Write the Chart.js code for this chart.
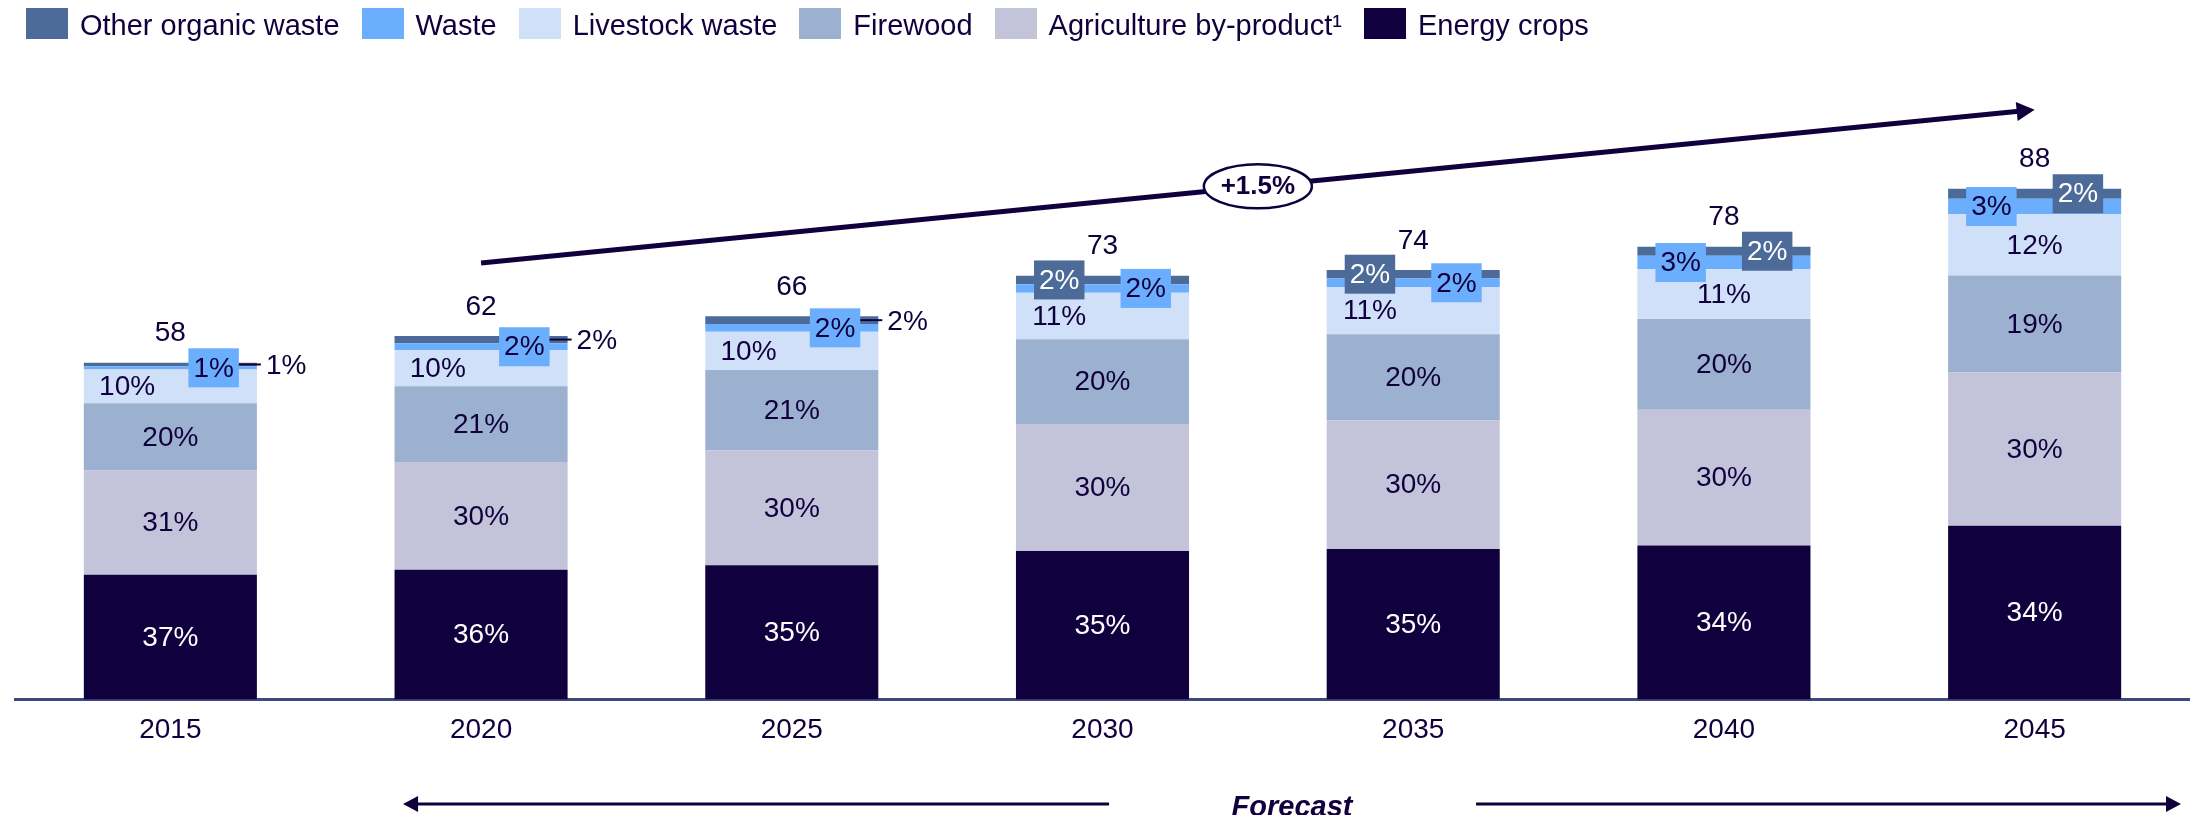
<!DOCTYPE html>
<html>
<head>
<meta charset="utf-8">
<script src="https://cdn.jsdelivr.net/npm/chart.js@4.4.1/dist/chart.umd.min.js"></script>
<style>
  html, body { margin: 0; padding: 0; background: #ffffff; }
  #wrap { position: relative; width: 2190px; height: 815px; }
  #legend {
    position: absolute; left: 26px; top: 8px; display: flex;
    font-family: "Liberation Sans", Arial, sans-serif; font-size: 29px; color: #10003d;
  }
  .item { display: flex; align-items: flex-start; margin-right: 22px; }
  .box { width: 42px; height: 31px; margin-right: 12px; }
  .txt { line-height: 31px; padding-top: 2px; white-space: nowrap; }
</style>
</head>
<body>
<div id="wrap">
  <canvas id="chart" width="2190" height="815"></canvas>
  <div id="legend"></div>
</div>
<script>
// Biomass supply by source, total and share of each source
const years = ['2015', '2020', '2025', '2030', '2035', '2040', '2045'];
const totals = [58, 62, 66, 73, 74, 78, 88];

// Shares of the total, in percent
const energyCrops    = [37, 36, 35, 35, 35, 34, 34];
const agriByproduct  = [31, 30, 30, 30, 30, 30, 30];
const firewood       = [20, 21, 21, 20, 20, 20, 19];
const livestockWaste = [10, 10, 10, 11, 11, 11, 12];
const waste          = [1, 2, 2, 2, 2, 3, 3];
const otherOrganic   = [1, 2, 2, 2, 2, 2, 2];

const seriesNames = ['Energy crops', 'Agriculture by-product\u00B9', 'Firewood',
                     'Livestock waste', 'Waste', 'Other organic waste'];
const growthLabel = '+1.5%';
const forecastLabel = 'Forecast';

// ---- styling ----
const FONT = '"Liberation Sans", Arial, sans-serif';
const NAVY = '#10003d';
const colors = ['#10003d', '#c3c3d9', '#9cb0cf', '#d0e0f9', '#6aaefd', '#4d6b99'];
const shareSets = [energyCrops, agriByproduct, firewood, livestockWaste, waste, otherOrganic];

// Where the small-segment labels sit across each bar (fraction of bar width);
// null means the label goes outside the bar with a short leader line.
const livestockAnchor = [0.25, 0.25, 0.25, 0.25, 0.25, 0.5, 0.5];
const wasteAnchor     = [0.75, 0.75, 0.75, 0.75, 0.75, 0.25, 0.25];
const otherAnchor     = [null, null, null, 0.25, 0.25, 0.75, 0.75];

// Growth arrow ends (in value units on the y scale)
const growthFrom = 75.2;
const growthTo = 101.6;

const datasets = shareSets.map((shares, d) => ({
  label: seriesNames[d],
  data: shares.map((s, i) => totals[i] * s / 100),
  backgroundColor: colors[d],
  borderWidth: 0,
  barPercentage: 0.557,
  categoryPercentage: 1.0
}));

// HTML legend, listed top of stack first
const legendEl = document.getElementById('legend');
for (let d = datasets.length - 1; d >= 0; d--) {
  const item = document.createElement('div');
  item.className = 'item';
  const box = document.createElement('div');
  box.className = 'box';
  box.style.background = colors[d];
  const txt = document.createElement('div');
  txt.className = 'txt';
  txt.textContent = seriesNames[d];
  item.appendChild(box);
  item.appendChild(txt);
  legendEl.appendChild(item);
}

function boxLabel(ctx, text, cx, cy, bg, fg) {
  const w = ctx.measureText(text).width + 10;
  const h = 39;
  ctx.fillStyle = bg;
  ctx.fillRect(cx - w / 2, cy - h / 2, w, h);
  ctx.fillStyle = fg;
  ctx.textAlign = 'center';
  ctx.textBaseline = 'middle';
  ctx.fillText(text, cx, cy + 1);
  return { left: cx - w / 2, right: cx + w / 2 };
}

const segmentLabels = {
  id: 'segmentLabels',
  afterDatasetsDraw(chart) {
    const ctx = chart.ctx;
    ctx.save();
    ctx.font = '28px ' + FONT;
    ctx.textAlign = 'center';
    ctx.textBaseline = 'middle';
    const metas = datasets.map((_, d) => chart.getDatasetMeta(d));
    years.forEach((yr, i) => {
      const geom = (d) => {
        const el = metas[d].data[i];
        return { left: el.x - el.width / 2, right: el.x + el.width / 2, w: el.width,
                 cx: el.x, cy: (el.y + el.base) / 2, top: el.y };
      };
      // large segments, centred
      for (let d = 0; d < 3; d++) {
        const g = geom(d);
        ctx.fillStyle = d === 0 ? '#ffffff' : NAVY;
        ctx.fillText(shareSets[d][i] + '%', g.cx, g.cy + 1);
      }
      // livestock
      const gl = geom(3);
      ctx.fillStyle = NAVY;
      ctx.fillText(livestockWaste[i] + '%', gl.left + gl.w * livestockAnchor[i], gl.cy + 1);
      // waste
      const gw = geom(4);
      const wb = boxLabel(ctx, waste[i] + '%', gw.left + gw.w * wasteAnchor[i], gw.cy, colors[4], NAVY);
      // other organic
      const go = geom(5);
      if (otherAnchor[i] === null) {
        ctx.strokeStyle = NAVY;
        ctx.lineWidth = 2;
        ctx.beginPath();
        ctx.moveTo(wb.right, go.cy);
        ctx.lineTo(go.right + 4, go.cy);
        ctx.stroke();
        ctx.fillStyle = NAVY;
        ctx.textAlign = 'left';
        ctx.fillText(otherOrganic[i] + '%', go.right + 9, go.cy + 2);
        ctx.textAlign = 'center';
      } else {
        boxLabel(ctx, otherOrganic[i] + '%', go.left + go.w * otherAnchor[i], go.cy, colors[5], '#ffffff');
      }
      // total above the bar
      ctx.fillStyle = NAVY;
      ctx.textAlign = 'center';
      ctx.fillText(String(totals[i]), go.cx, go.top - 29);
    });
    ctx.restore();
  }
};

function arrowHead(ctx, x, y, angle, len, half) {
  ctx.save();
  ctx.translate(x, y);
  ctx.rotate(angle);
  ctx.beginPath();
  ctx.moveTo(0, 0);
  ctx.lineTo(-len, -half);
  ctx.lineTo(-len, half);
  ctx.closePath();
  ctx.fill();
  ctx.restore();
}

const annotations = {
  id: 'annotations',
  afterDraw(chart) {
    const ctx = chart.ctx;
    const xs = chart.scales.x, ys = chart.scales.y;
    ctx.save();
    ctx.fillStyle = NAVY;
    ctx.strokeStyle = NAVY;

    // growth arrow from 2020 to 2045
    const x1 = xs.getPixelForValue(1), y1 = ys.getPixelForValue(growthFrom);
    const x2 = xs.getPixelForValue(6), y2 = ys.getPixelForValue(growthTo);
    const ang = Math.atan2(y2 - y1, x2 - x1);
    const headLen = 18;
    ctx.lineWidth = 5;
    ctx.beginPath();
    ctx.moveTo(x1, y1);
    ctx.lineTo(x2 - Math.cos(ang) * (headLen - 2), y2 - Math.sin(ang) * (headLen - 2));
    ctx.stroke();
    arrowHead(ctx, x2, y2, ang, headLen, 9.5);

    // growth rate bubble
    const mx = (x1 + x2) / 2, my = (y1 + y2) / 2;
    ctx.beginPath();
    ctx.ellipse(mx, my, 54, 22, 0, 0, Math.PI * 2);
    ctx.fillStyle = '#ffffff';
    ctx.fill();
    ctx.lineWidth = 2.5;
    ctx.stroke();
    ctx.fillStyle = NAVY;
    ctx.font = 'bold 26px ' + FONT;
    ctx.textAlign = 'center';
    ctx.textBaseline = 'middle';
    ctx.fillText(growthLabel, mx, my + 1);

    // forecast span below the axis
    const fy = 804;
    const left = xs.getPixelForValue(1) - 78;
    const right = chart.chartArea.right - 9;
    const mid = (left + right) / 2;
    ctx.lineWidth = 3;
    ctx.beginPath();
    ctx.moveTo(left + 14, fy);
    ctx.lineTo(mid - 183, fy);
    ctx.moveTo(mid + 184, fy);
    ctx.lineTo(right - 14, fy);
    ctx.stroke();
    arrowHead(ctx, left, fy, Math.PI, 15, 8);
    arrowHead(ctx, right, fy, 0, 15, 8);
    ctx.font = 'italic bold 29px ' + FONT;
    ctx.textBaseline = 'alphabetic';
    ctx.fillText(forecastLabel, mid, fy + 12);
    ctx.restore();
  }
};

new Chart(document.getElementById('chart'), {
  type: 'bar',
  data: { labels: years, datasets },
  options: {
    responsive: false,
    animation: false,
    devicePixelRatio: 1,
    layout: { padding: { top: 119, left: 15, right: 0, bottom: 54 } },
    plugins: { legend: { display: false }, tooltip: { enabled: false } },
    scales: {
      x: {
        stacked: true,
        grid: { display: false, drawTicks: false },
        border: { display: true, color: '#3c4a80', width: 3 },
        ticks: { color: NAVY, font: { family: FONT, size: 28 }, padding: 14, maxRotation: 0 }
      },
      y: { stacked: true, display: false, min: 0, max: 100 }
    }
  },
  plugins: [segmentLabels, annotations]
});
</script>
</body>
</html>
